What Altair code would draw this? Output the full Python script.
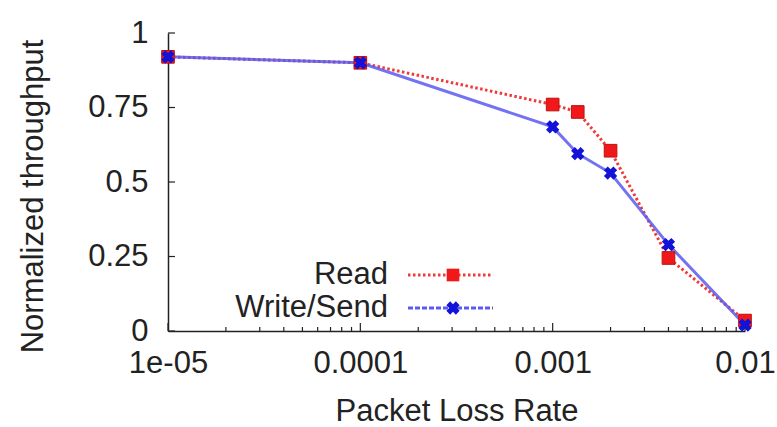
import altair as alt
import pandas as pd

# Measured throughput versus packet loss rate
loss_rate = [1e-5, 1e-4, 1e-3, 1.35e-3, 2e-3, 4e-3, 1e-2]
read_tp = [0.92, 0.90, 0.76, 0.735, 0.605, 0.245, 0.035]
write_tp = [0.92, 0.90, 0.685, 0.595, 0.53, 0.29, 0.02]
series_names = ["Read", "Write/Send"]

x_major = [1e-5, 1e-4, 1e-3, 1e-2]
x_major_labels = ["1e-05", "0.0001", "0.001", "0.01"]
y_major = [0, 0.25, 0.5, 0.75, 1]
y_major_labels = ["0", "0.25", "0.5", "0.75", "1"]

FONT = "Liberation Sans"
FS = 31
W, H = 577, 298
RED = "#f01818"
RED_LINE = "#f03a3a"
BLUE = "#1212d8"
BLUE_LINE = "#5a5af0"
INK = "#222222"

read_df = pd.DataFrame({"rate": loss_rate, "tp": read_tp})
write_df = pd.DataFrame({"rate": loss_rate, "tp": write_tp})

x_scale = alt.Scale(type="log", domain=[1e-5, 1e-2], nice=False)
y_scale = alt.Scale(domain=[0, 1], nice=False, zero=False)


def lookup_expr(values, labels):
    parts = " : ".join(
        f"abs(datum.value - {v}) < {abs(v) * 1e-6 + 1e-12} ? '{l}'"
        for v, l in zip(values, labels)
    )
    return parts + " : ''"


x_axis = alt.Axis(
    values=x_major,
    labelExpr=lookup_expr(x_major, x_major_labels),
    title="Packet Loss Rate",
    grid=False,
    ticks=False,
    domainColor=INK,
    domainWidth=1.5,
    labelFont=FONT,
    labelFontSize=FS,
    labelColor=INK,
    labelPadding=17,
    labelFlush=False,
    labelOverlap=False,
    titleFont=FONT,
    titleFontSize=FS,
    titleFontWeight="normal",
    titleColor=INK,
    titlePadding=18,
)
y_axis = alt.Axis(
    values=y_major,
    labelExpr=lookup_expr(y_major, y_major_labels),
    title="Normalized throughput",
    grid=False,
    ticks=False,
    domainColor=INK,
    domainWidth=1.5,
    labelFont=FONT,
    labelFontSize=FS,
    labelColor=INK,
    labelPadding=20,
    labelFlush=False,
    labelOverlap=False,
    titleFont=FONT,
    titleFontSize=FS,
    titleFontWeight="normal",
    titleColor=INK,
    titlePadding=38,
    titleY=163,
)

X = alt.X("rate:Q", scale=x_scale, axis=x_axis)
Y = alt.Y("tp:Q", scale=y_scale, axis=y_axis)
Yn = alt.Y("tp:Q", scale=y_scale, axis=None)

read_line = alt.Chart(read_df).mark_line(
    color=RED_LINE, strokeWidth=3, strokeDash=[2.5, 2.5]
).encode(x=X, y=Y)
write_line = alt.Chart(write_df).mark_line(
    color=BLUE_LINE, strokeWidth=3, opacity=0.85
).encode(x=X, y=Yn)
read_pts = alt.Chart(read_df).mark_point(
    shape="square", size=160, filled=True, color=RED, stroke="#c01010",
    strokeWidth=1, opacity=1
).encode(x=X, y=Yn)
write_pts = alt.Chart(write_df).mark_point(
    shape="cross", angle=45, size=180, filled=True, color=BLUE, opacity=1
).encode(x=X, y=Yn)

# Inward tick marks on the two axes
minor_x = [m * 10.0 ** e for e in (-5, -4, -3) for m in range(2, 10)]
xt_major = alt.Chart(pd.DataFrame({"rate": x_major})).mark_rule(
    color=INK, strokeWidth=1.2
).encode(x=X, y=alt.value(H), y2=alt.value(H - 8))
xt_minor = alt.Chart(pd.DataFrame({"rate": minor_x})).mark_rule(
    color=INK, strokeWidth=1.2
).encode(x=X, y=alt.value(H), y2=alt.value(H - 4))
yt_major = alt.Chart(pd.DataFrame({"tp": y_major})).mark_rule(
    color=INK, strokeWidth=1.2
).encode(y=Yn, x=alt.value(0), x2=alt.value(7))

# Key drawn inside the plot area
key_df = pd.DataFrame({"name": series_names, "row": [0, 1]})
key_y = {"Read": 242, "Write/Send": 275}
key_text = alt.Chart(key_df).mark_text(
    align="right", baseline="middle", font=FONT, fontSize=FS, color=INK
).encode(
    text="name:N",
    y=alt.Y("row:Q", scale=alt.Scale(domain=[0, 1], range=[key_y["Read"], key_y["Write/Send"]]), axis=None),
    x=alt.value(220),
)
key_read_line = alt.Chart(key_df[key_df.name == "Read"]).mark_rule(
    color=RED_LINE, strokeWidth=3, strokeDash=[2.5, 2.5]
).encode(x=alt.value(240), x2=alt.value(325), y=alt.value(key_y["Read"]))
key_write_line = alt.Chart(key_df[key_df.name == "Write/Send"]).mark_rule(
    color=BLUE_LINE, strokeWidth=3, strokeDash=[5, 2]
).encode(x=alt.value(240), x2=alt.value(325), y=alt.value(key_y["Write/Send"]))
key_read_pt = alt.Chart(key_df[key_df.name == "Read"]).mark_point(
    shape="square", size=160, filled=True, color=RED, opacity=1
).encode(x=alt.value(285), y=alt.value(key_y["Read"]))
key_write_pt = alt.Chart(key_df[key_df.name == "Write/Send"]).mark_point(
    shape="cross", angle=45, size=180, filled=True, color=BLUE, opacity=1
).encode(x=alt.value(285), y=alt.value(key_y["Write/Send"]))

chart = alt.layer(
    read_line, xt_major, xt_minor, yt_major,
    write_line, read_pts, write_pts,
    key_text, key_read_line, key_write_line, key_read_pt, key_write_pt,
).resolve_scale(y="independent").properties(
    width=W,
    height=H,
    autosize=alt.AutoSizeParams(type="none"),
    padding={"left": 168, "top": 33, "right": 777 - 168 - W, "bottom": 427 - 33 - H},
    background="white",
).configure_view(stroke=None)

chart.save("out.html", embed_options={"renderer": "svg", "actions": False})
